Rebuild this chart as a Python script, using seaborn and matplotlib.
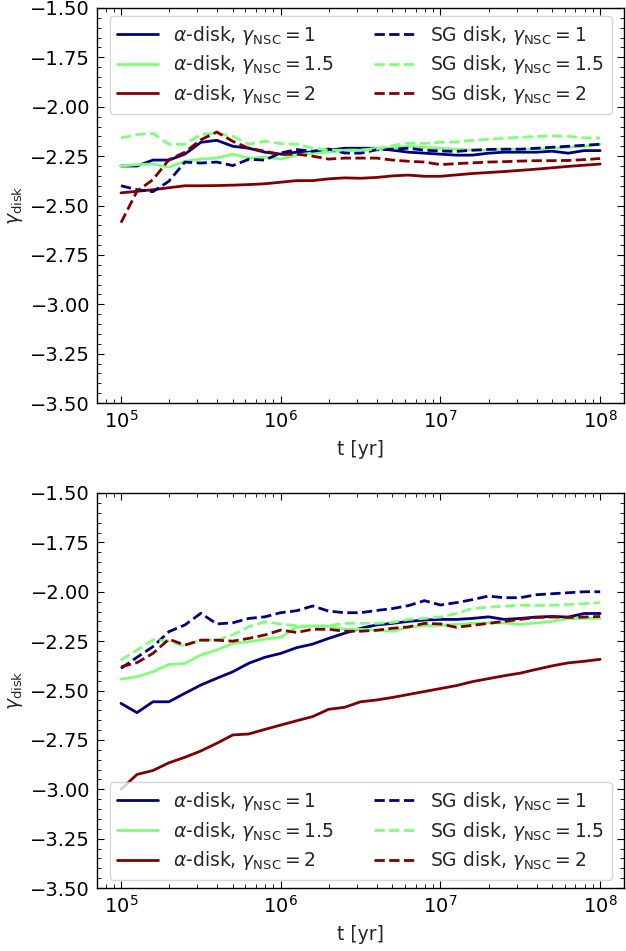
import numpy as np
import pandas as pd
import matplotlib
matplotlib.use("Agg")
import matplotlib.pyplot as plt
import seaborn as sns
from matplotlib.ticker import AutoMinorLocator, MultipleLocator

# Time grid (10 samples per decade)
t_yr = np.logspace(5, 8, 31)

gamma_nsc = ["1", "1.5", "2"]

# Upper panel
alpha_top = {
    "1": [-2.30, -2.30, -2.27, -2.27, -2.24, -2.18, -2.17, -2.20, -2.21, -2.23, -2.24,
          -2.23, -2.23, -2.22, -2.21, -2.21, -2.21, -2.22, -2.23, -2.235, -2.24,
          -2.245, -2.245, -2.235, -2.23, -2.23, -2.23, -2.225, -2.235, -2.222, -2.222],
    "1.5": [-2.30, -2.293, -2.29, -2.306, -2.276, -2.265, -2.26, -2.24, -2.26, -2.255, -2.265,
            -2.245, -2.234, -2.23, -2.22, -2.22, -2.21, -2.21, -2.20, -2.205, -2.21,
            -2.215, -2.22, -2.22, -2.215, -2.215, -2.215, -2.21, -2.205, -2.20, -2.19],
    "2": [-2.436, -2.428, -2.42, -2.41, -2.40, -2.40, -2.399, -2.397, -2.394, -2.39, -2.382,
          -2.374, -2.374, -2.365, -2.36, -2.362, -2.358, -2.35, -2.346, -2.352, -2.352,
          -2.345, -2.338, -2.333, -2.328, -2.322, -2.316, -2.309, -2.302, -2.296, -2.29],
}
sg_top = {
    "1": [-2.40, -2.42, -2.43, -2.377, -2.28, -2.285, -2.28, -2.298, -2.266, -2.27, -2.234,
          -2.217, -2.225, -2.214, -2.234, -2.235, -2.218, -2.215, -2.21, -2.22, -2.224,
          -2.226, -2.22, -2.216, -2.215, -2.215, -2.21, -2.205, -2.20, -2.195, -2.19],
    "1.5": [-2.158, -2.141, -2.135, -2.19, -2.19, -2.14, -2.135, -2.15, -2.19, -2.175, -2.187,
            -2.19, -2.21, -2.22, -2.22, -2.22, -2.214, -2.197, -2.184, -2.186, -2.18,
            -2.178, -2.17, -2.165, -2.16, -2.155, -2.15, -2.148, -2.15, -2.158, -2.158],
    "2": [-2.587, -2.428, -2.369, -2.268, -2.23, -2.167, -2.128, -2.175, -2.21, -2.225, -2.242,
          -2.24, -2.25, -2.265, -2.26, -2.26, -2.26, -2.27, -2.276, -2.28, -2.293,
          -2.288, -2.284, -2.28, -2.278, -2.275, -2.273, -2.273, -2.272, -2.268, -2.262],
}

# Lower panel
alpha_bot = {
    "1": [-2.565, -2.612, -2.557, -2.557, -2.514, -2.472, -2.438, -2.405, -2.362, -2.332, -2.312,
          -2.283, -2.265, -2.236, -2.21, -2.185, -2.168, -2.16, -2.15, -2.143, -2.14,
          -2.14, -2.135, -2.127, -2.14, -2.135, -2.128, -2.125, -2.128, -2.11, -2.11],
    "1.5": [-2.443, -2.43, -2.405, -2.368, -2.363, -2.32, -2.295, -2.261, -2.253, -2.24, -2.23,
            -2.18, -2.173, -2.175, -2.19, -2.19, -2.195, -2.20, -2.18, -2.172, -2.17,
            -2.165, -2.16, -2.158, -2.158, -2.165, -2.158, -2.15, -2.136, -2.135, -2.135],
    "2": [-3.00, -2.925, -2.905, -2.866, -2.838, -2.806, -2.767, -2.725, -2.72, -2.697, -2.675,
          -2.653, -2.632, -2.595, -2.585, -2.557, -2.548, -2.535, -2.52, -2.505, -2.49,
          -2.475, -2.455, -2.44, -2.425, -2.412, -2.393, -2.375, -2.36, -2.352, -2.342],
}
sg_bot = {
    "1": [-2.388, -2.332, -2.278, -2.202, -2.168, -2.109, -2.163, -2.157, -2.135, -2.127, -2.106,
          -2.096, -2.072, -2.098, -2.106, -2.106, -2.095, -2.085, -2.07, -2.045, -2.067,
          -2.055, -2.04, -2.022, -2.03, -2.03, -2.015, -2.01, -2.005, -2.00, -2.00],
    "1.5": [-2.346, -2.295, -2.244, -2.25, -2.275, -2.244, -2.244, -2.219, -2.177, -2.152, -2.163,
            -2.172, -2.175, -2.172, -2.16, -2.16, -2.16, -2.155, -2.14, -2.135, -2.128,
            -2.11, -2.085, -2.078, -2.073, -2.068, -2.07, -2.068, -2.065, -2.06, -2.055],
    "2": [-2.38, -2.359, -2.312, -2.24, -2.27, -2.245, -2.245, -2.25, -2.236, -2.219, -2.194,
          -2.206, -2.19, -2.19, -2.20, -2.20, -2.195, -2.185, -2.178, -2.16, -2.163,
          -2.18, -2.17, -2.16, -2.15, -2.14, -2.13, -2.128, -2.13, -2.128, -2.125],
}

sns.set_style("ticks")
plt.rcParams.update({
    "font.family": ["DejaVu Sans"],
    "mathtext.fontset": "dejavusans",
    "font.size": 13.5,
    "axes.labelsize": 13.5,
    "xtick.labelsize": 14,
    "ytick.labelsize": 14,
    "legend.fontsize": 13.5,
    "axes.edgecolor": "black",
    "axes.linewidth": 1.0,
    "xtick.color": "black",
    "ytick.color": "black",
    "xtick.direction": "in",
    "ytick.direction": "in",
    "xtick.top": True,
    "ytick.right": True,
    "xtick.major.size": 5,
    "ytick.major.size": 5,
    "xtick.minor.size": 3,
    "ytick.minor.size": 3,
    "xtick.major.pad": 5,
    "ytick.major.pad": 5,
})

cmap = plt.cm.jet
colors = {"1": cmap(0.0), "1.5": cmap(0.5), "2": cmap(1.0)}

fig = plt.figure(figsize=(6.26, 9.51), dpi=100)
ax_top = fig.add_axes([0.155, 0.5762, 0.842, 0.4154])
ax_bot = fig.add_axes([0.155, 0.0662, 0.842, 0.4154])


def draw_panel(ax, alpha_vals, sg_vals, legend_loc):
    for g in gamma_nsc:
        sns.lineplot(x=t_yr, y=alpha_vals[g], ax=ax, color=colors[g], lw=2,
                     linestyle="-", label=r"$\alpha$-disk, $\gamma_{\rm NSC}=%s$" % g)
    for g in gamma_nsc:
        sns.lineplot(x=t_yr, y=sg_vals[g], ax=ax, color=colors[g], lw=2,
                     linestyle="--", label=r"SG disk, $\gamma_{\rm NSC}=%s$" % g)
    ax.set_xscale("log")
    ax.set_ylim(-3.5, -1.5)
    ax.yaxis.set_major_locator(MultipleLocator(0.25))
    ax.yaxis.set_minor_locator(AutoMinorLocator(5))
    ax.set_xlabel("t [yr]", labelpad=6)
    ax.set_ylabel(r"$\gamma_{\rm disk}$")
    ax.tick_params(which="both", direction="in", top=True, right=True)
    ax.legend(loc=legend_loc, ncol=2, handlelength=2.2, columnspacing=2.1,
              labelspacing=0.35, borderaxespad=0.45)


draw_panel(ax_top, alpha_top, sg_top, "upper center")
draw_panel(ax_bot, alpha_bot, sg_bot, "lower center")

fig.savefig("out.png", dpi=100)
